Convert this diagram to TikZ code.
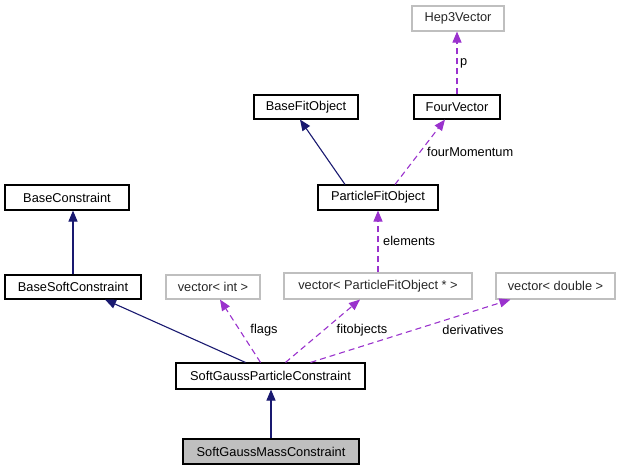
\documentclass[tikz,border=0pt]{standalone}
\usepackage{fontspec}
\setmainfont{Liberation Sans}
\usetikzlibrary{arrows.meta}
\definecolor{navyedge}{HTML}{191970}
\definecolor{purpedge}{HTML}{9A32CD}
\definecolor{extgray}{HTML}{BFBFBF}
\begin{document}
\begin{tikzpicture}[x=1pt,y=-1pt,
  every node/.style={font=\fontsize{12.8}{15}\selectfont, inner sep=0pt},
  cls/.style={draw=black, line width=1.1pt, rectangle},
  ext/.style={draw=extgray, line width=1.1pt, rectangle, text=black!85},
  cur/.style={draw=black, line width=1.1pt, fill=extgray, rectangle},
  inh/.style={draw=navyedge, line width=1.1pt, -{Triangle[length=11pt,width=9pt]}},
  use/.style={draw=purpedge, line width=1.1pt, dash pattern=on 6pt off 4pt, -{Triangle[length=11pt,width=9pt]}},
  lbl/.style={text=black}]
\useasboundingbox (0,0) rectangle (621,471);
\node[ext, minimum width=92pt, minimum height=25pt] (h3v) at (458,18.5) {Hep3Vector};
\node[cls, minimum width=104pt, minimum height=24pt] (bfo) at (306,107) {BaseFitObject};
\node[cls, minimum width=86pt, minimum height=24pt] (fv) at (457,107) {FourVector};
\node[cls, minimum width=124pt, minimum height=25pt] (bc) at (67,197.5) {BaseConstraint};
\node[cls, minimum width=120pt, minimum height=25pt] (pfo) at (378,197.5) {ParticleFitObject};
\node[cls, minimum width=136pt, minimum height=24pt] (bsc) at (73,287) {BaseSoftConstraint};
\node[ext, minimum width=94pt, minimum height=24pt] (vint) at (213,287) {vector< int >};
\node[ext, minimum width=188pt, minimum height=26pt] (vpfo) at (378,286) {vector< ParticleFitObject * >};
\node[ext, minimum width=119pt, minimum height=26pt] (vdbl) at (555.5,286) {vector< double >};
\node[cls, minimum width=189pt, minimum height=26pt] (sgpc) at (270.5,376) {SoftGaussParticleConstraint};
\node[cur, minimum width=176pt, minimum height=25pt] (sgmc) at (271,451.5) {SoftGaussMassConstraint};

\draw[use] (fv.north) -- (fv.north |- h3v.south);
\draw[inh] ([xshift=-33pt]pfo.north) -- ([xshift=-6pt]bfo.south);
\draw[use] ([xshift=17pt]pfo.north) -- ([xshift=-12pt]fv.south);
\draw[use] (vpfo.north) -- (vpfo.north |- pfo.south);
\draw[inh] (bsc.north) -- (bsc.north |- bc.south);
\draw[inh] ([xshift=-25pt]sgpc.north) -- ([xshift=32pt]bsc.south);
\draw[use] ([xshift=-10pt]sgpc.north) -- ([xshift=7pt]vint.south);
\draw[use] ([xshift=15pt]sgpc.north) -- ([xshift=-18pt]vpfo.south);
\draw[use] ([xshift=40pt]sgpc.north) -- ([xshift=-45pt]vdbl.south);
\draw[inh] (sgmc.north) -- (sgmc.north |- sgpc.south);

\node[lbl, anchor=west] (lp) at (460,63) {p};
\node[lbl, anchor=west] (lfm) at (427,152) {fourMomentum};
\node[lbl, anchor=west] (lel) at (383,241) {elements};
\node[lbl] (lfl) at (264,330) {flags};
\node[lbl] (lfo) at (362,330) {fitobjects};
\node[lbl] (lde) at (473,330) {derivatives};
\end{tikzpicture}
\end{document}
